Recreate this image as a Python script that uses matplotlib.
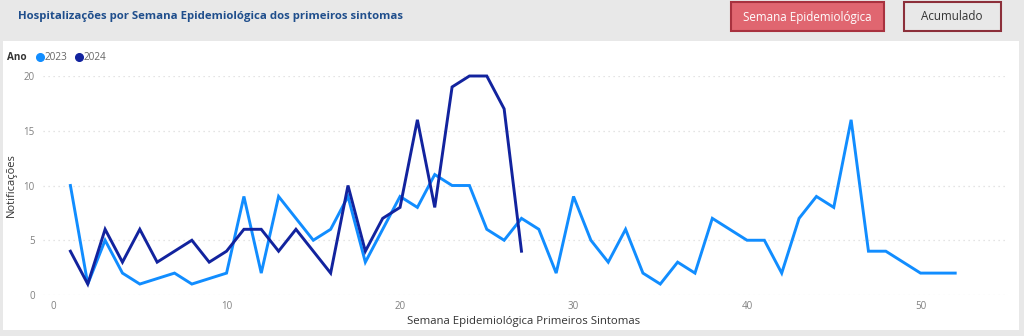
import numpy as np
import matplotlib
matplotlib.use("Agg")
import matplotlib.pyplot as plt
from matplotlib.patches import Rectangle
from matplotlib.lines import Line2D

plt.rcParams['font.family'] = ['Open Sans', 'DejaVu Sans']

# ---------------------------------------------------------------------------
# data
# ---------------------------------------------------------------------------
weeks_2023 = [1, 2, 3, 4, 5, 7, 8, 10, 11, 12, 13, 14, 15, 16, 17, 18, 19, 20,
              21, 22, 23, 24, 25, 26, 27, 28, 29, 30, 31, 32, 33, 34, 35, 36,
              37, 38, 39, 40, 41, 42, 43, 44, 45, 46, 47, 48, 49, 50, 51, 52]
vals_2023 = [10, 1, 5, 2, 1, 2, 1, 2, 9, 2, 9, 7, 5, 6, 9, 3, 6, 9,
             8, 11, 10, 10, 6, 5, 7, 6, 2, 9, 5, 3, 6, 2, 1, 3,
             2, 7, 6, 5, 5, 2, 7, 9, 8, 16, 4, 4, 3, 2, 2, 2]

weeks_2024 = list(range(1, 28))
vals_2024 = [4, 1, 6, 3, 6, 3, 4, 5, 3, 4, 6, 6, 4, 6, 4, 2, 10, 4, 7, 8,
             16, 8, 19, 20, 20, 17, 4]

x_ticks = [0, 10, 20, 30, 40, 50]
y_ticks = [0, 5, 10, 15, 20]

C23 = '#118DFF'
C24 = '#12239E'

W, H = 1024, 336
fig = plt.figure(figsize=(W / 100, H / 100), dpi=100, facecolor='#e8e8e8')

def px(x, y):
    # pixel (top-left origin) -> figure fraction
    return x / W, 1 - y / H

# white panel
fig.patches.append(Rectangle(px(3, 330), 1016 / W, 289 / H, transform=fig.transFigure,
                             facecolor='white', edgecolor='none', zorder=-5))

# header title
fig.text(*px(18, 16), 'Hospitalizações por Semana Epidemiológica dos primeiros sintomas',
         color='#1f4e8c', fontsize=8.2, fontweight='bold', va='center', ha='left')

# buttons
fig.patches.append(Rectangle(px(731, 31), 153 / W, 29 / H, transform=fig.transFigure,
                             facecolor='#e06670', edgecolor='#a8323f', lw=1.5, zorder=2))
fig.text(*px(807, 17), 'Semana Epidemiológica', color='white', fontsize=8.4,
         ha='center', va='center', zorder=3)
fig.patches.append(Rectangle(px(904, 31), 97 / W, 29 / H, transform=fig.transFigure,
                             facecolor='#e8e8e8', edgecolor='#8c2f3a', lw=1.5, zorder=2))
fig.text(*px(952, 17), 'Acumulado', color='#333333', fontsize=8.4,
         ha='center', va='center', zorder=3)

# legend
fig.text(*px(7, 58), 'Ano', color='#333333', fontsize=7.2, fontweight='bold', va='center')
for cx, c, lab in [(40, C23, '2023'), (79, C24, '2024')]:
    fig.add_artist(Line2D([cx / W], [1 - 57 / H], transform=fig.transFigure,
                          marker='o', markersize=5.5, color=c, lw=0))
    fig.text(*px(cx + 5, 58), lab, color='#666666', fontsize=7.2, va='center')

# ---------------------------------------------------------------------------
# main axes
# ---------------------------------------------------------------------------
ax = fig.add_axes([43 / W, 1 - 295 / H, 962 / W, 219 / H])
ax.set_facecolor('none')
ax.plot(weeks_2023, vals_2023, color=C23, lw=2.1, clip_on=False, zorder=3,
        solid_joinstyle='miter')
ax.plot(weeks_2024, vals_2024, color=C24, lw=2.1, clip_on=False, zorder=4,
        solid_joinstyle='miter')

ax.set_xlim(-0.58, 54.87)
ax.set_ylim(0, 20)
ax.set_xticks(x_ticks)
ax.set_yticks(y_ticks)
ax.tick_params(length=0, labelsize=7, labelcolor='#808080')
ax.tick_params(axis='x', pad=4)
ax.tick_params(axis='y', pad=6)
for s in ax.spines.values():
    s.set_visible(False)
ax.grid(axis='y', color='#dcdcdc', lw=0.9, linestyle=(0, (1, 3)))
ax.set_axisbelow(True)

ax.set_xlabel('Semana Epidemiológica Primeiros Sintomas', fontsize=8.2,
              color='#333333', labelpad=3)
ax.set_ylabel('Notificações', fontsize=8, color='#333333', labelpad=5)

fig.savefig('out.png', dpi=100, facecolor=fig.get_facecolor())
